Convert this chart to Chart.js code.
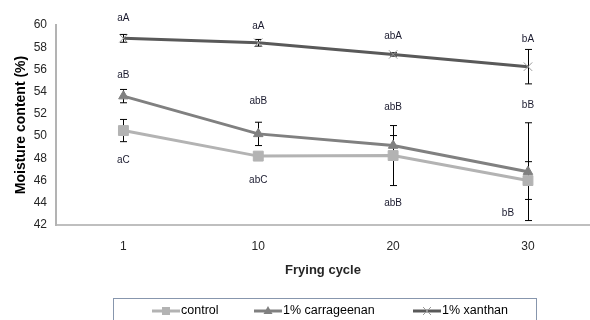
<!DOCTYPE html>
<html>
<head>
<meta charset="utf-8">
<script src="https://cdn.jsdelivr.net/npm/chart.js@4.4.0/dist/chart.umd.min.js"></script>
<style>
html, body { margin: 0; padding: 0; background: #fff; }
#wrap { width: 590px; height: 320px; }
</style>
</head>
<body>
<div id="wrap"><canvas id="moisturecnv"></canvas></div>
<script>
var cycles = ['1', '10', '20', '30'];
var yTicks = [42, 44, 46, 48, 50, 52, 54, 56, 58, 60];

var control = [50.5, 48.2, 48.25, 46.0];
var controlErr = [1.0, 0.2, 2.7, 1.7];
var carrageenan = [53.6, 50.2, 49.15, 46.8];
var carrageenanErr = [0.6, 1.05, 0.9, 4.4];
var xanthan = [58.8, 58.4, 57.35, 56.25];
var xanthanErr = [0.35, 0.3, 0.15, 1.55];

// significance letters and the value level they sit at
var controlLetters = ['aC', 'abC', 'abB', 'bB'];
var controlLetterY = [47.85, 46.0, 43.95, 43.05];
var carrageenanLetters = ['aB', 'abB', 'abB', 'bB'];
var carrageenanLetterY = [55.45, 53.1, 52.6, 52.8];
var xanthanLetters = ['aA', 'aA', 'abA', 'bA'];
var xanthanLetterY = [60.6, 59.85, 58.95, 58.7];

var FONT = "'Liberation Sans', Arial, sans-serif";

var points = function(vals) {
  var out = [];
  for (var i = 0; i < vals.length; i++) out.push({x: i, y: vals[i]});
  return out;
};

var series = [
  {label: 'control', data: control, err: controlErr, letters: controlLetters, letterY: controlLetterY,
   color: '#b3b3b3', mark: 'rect', order: 1},
  {label: '1% carrageenan', data: carrageenan, err: carrageenanErr, letters: carrageenanLetters, letterY: carrageenanLetterY,
   color: '#808080', mark: 'triangle', order: 0},
  {label: '1% xanthan', data: xanthan, err: xanthanErr, letters: xanthanLetters, letterY: xanthanLetterY,
   color: '#595959', mark: 'crossRot', order: 2}
];

var datasets = series.map(function(s) {
  var ds = {
    label: s.label,
    data: points(s.data),
    borderColor: s.color,
    backgroundColor: s.color,
    borderWidth: 3,
    pointStyle: s.mark,
    pointBackgroundColor: s.color,
    pointBorderColor: s.color,
    pointBorderWidth: 1,
    pointRadius: 5.5,
    tension: 0,
    clip: false,
    order: s.order
  };
  if (s.mark == 'rect') ds.pointRadius = 7;
  if (s.mark == 'crossRot') { ds.pointRadius = 6; ds.pointBorderColor = '#999999'; }
  return ds;
});

var drawMark = function(ctx, mark, x, y, color) {
  ctx.save();
  ctx.fillStyle = color;
  ctx.strokeStyle = color;
  ctx.beginPath();
  if (mark == 'rect') {
    ctx.fillRect(x - 4, y - 4, 8, 8);
  } else if (mark == 'triangle') {
    ctx.moveTo(x, y - 5);
    ctx.lineTo(x + 4.5, y + 3);
    ctx.lineTo(x - 4.5, y + 3);
    ctx.closePath();
    ctx.fill();
  } else {
    ctx.strokeStyle = '#999999';
    ctx.lineWidth = 1;
    ctx.moveTo(x - 4, y - 4); ctx.lineTo(x + 4, y + 4);
    ctx.moveTo(x + 4, y - 4); ctx.lineTo(x - 4, y + 4);
    ctx.stroke();
  }
  ctx.restore();
};

var errorBars = {
  id: 'errorBars',
  beforeDatasetsDraw: function(chart) {
    var ctx = chart.ctx;
    var xs = chart.scales.x, ys = chart.scales.y;
    ctx.save();
    ctx.strokeStyle = '#000';
    ctx.lineWidth = 1;
    series.forEach(function(s) {
      for (var i = 0; i < s.data.length; i++) {
        var px = Math.round(xs.getPixelForValue(i)) + 0.5;
        var top = ys.getPixelForValue(s.data[i] + s.err[i]);
        var bot = ys.getPixelForValue(s.data[i] - s.err[i]);
        ctx.beginPath();
        ctx.moveTo(px, top); ctx.lineTo(px, bot);
        ctx.moveTo(px - 3.5, top); ctx.lineTo(px + 3.5, top);
        ctx.moveTo(px - 3.5, bot); ctx.lineTo(px + 3.5, bot);
        ctx.stroke();
      }
    });
    ctx.restore();
  }
};

var lettersAndLegend = {
  id: 'lettersAndLegend',
  afterDraw: function(chart) {
    var ctx = chart.ctx;
    var xs = chart.scales.x, ys = chart.scales.y;
    ctx.save();
    ctx.font = '10px ' + FONT;
    ctx.fillStyle = '#1a1a2e';
    ctx.textAlign = 'center';
    ctx.textBaseline = 'middle';
    series.forEach(function(s) {
      for (var i = 0; i < s.letters.length; i++) {
        var px = xs.getPixelForValue(i);
        if (s.label == 'control' && i == 3) px -= 20;
        ctx.fillText(s.letters[i], px, ys.getPixelForValue(s.letterY[i]));
      }
    });

    // legend box
    ctx.strokeStyle = '#8796ad';
    ctx.lineWidth = 1;
    ctx.strokeRect(113.5, 298.5, 423, 40);
    var starts = [152, 254, 413];
    ctx.font = '12.5px ' + FONT;
    ctx.textAlign = 'left';
    ctx.fillStyle = '#000';
    series.forEach(function(s, k) {
      var lx = starts[k], ly = 311;
      ctx.strokeStyle = s.color;
      ctx.lineWidth = 3;
      ctx.beginPath();
      ctx.moveTo(lx, ly); ctx.lineTo(lx + 28, ly);
      ctx.stroke();
      drawMark(ctx, s.mark, lx + 14, ly, s.color);
      ctx.fillText(s.label, lx + 29, ly);
    });
    ctx.restore();
  }
};

var ctx = document.getElementById('moisturecnv').getContext('2d');
var moistureChart = new Chart(ctx, {
  type: 'line',
  data: {datasets: datasets},
  plugins: [errorBars, lettersAndLegend],
  options: {
    responsive: true,
    maintainAspectRatio: false,
    animation: false,
    layout: {autoPadding: false, padding: {top: 25, right: 0, bottom: 38, left: 0}},
    plugins: {
      legend: {display: false},
      tooltip: {enabled: false}
    },
    scales: {
      x: {
        type: 'linear',
        min: -0.5,
        max: 3.46,
        afterBuildTicks: function(axis) {
          axis.ticks = cycles.map(function(c, i) { return {value: i}; });
        },
        afterFit: function(axis) {
          axis.height = 57;
        },
        grid: {display: false, drawTicks: false},
        border: {display: true, color: '#bfbfbf', width: 2},
        ticks: {
          padding: 14,
          color: '#262626',
          font: {family: FONT, size: 12},
          callback: function(v) { return cycles[v]; }
        },
        title: {
          display: true,
          text: 'Frying cycle',
          color: '#262626',
          font: {family: FONT, size: 13, weight: 'bold'},
          padding: {top: 0, bottom: 4}
        }
      },
      y: {
        min: 42,
        max: 60,
        afterBuildTicks: function(axis) {
          axis.ticks = yTicks.map(function(v) { return {value: v}; });
        },
        afterFit: function(axis) { axis.width = 56; },
        grid: {display: false, drawTicks: false},
        border: {display: true, color: '#b3b3b3', width: 2},
        ticks: {
          padding: 9,
          color: '#262626',
          font: {family: FONT, size: 12}
        },
        title: {
          display: true,
          text: 'Moisture content (%)',
          color: '#000',
          font: {family: FONT, size: 14, weight: 'bold'},
          padding: {top: 13, bottom: 0}
        }
      }
    }
  }
});
</script>
</body>
</html>
